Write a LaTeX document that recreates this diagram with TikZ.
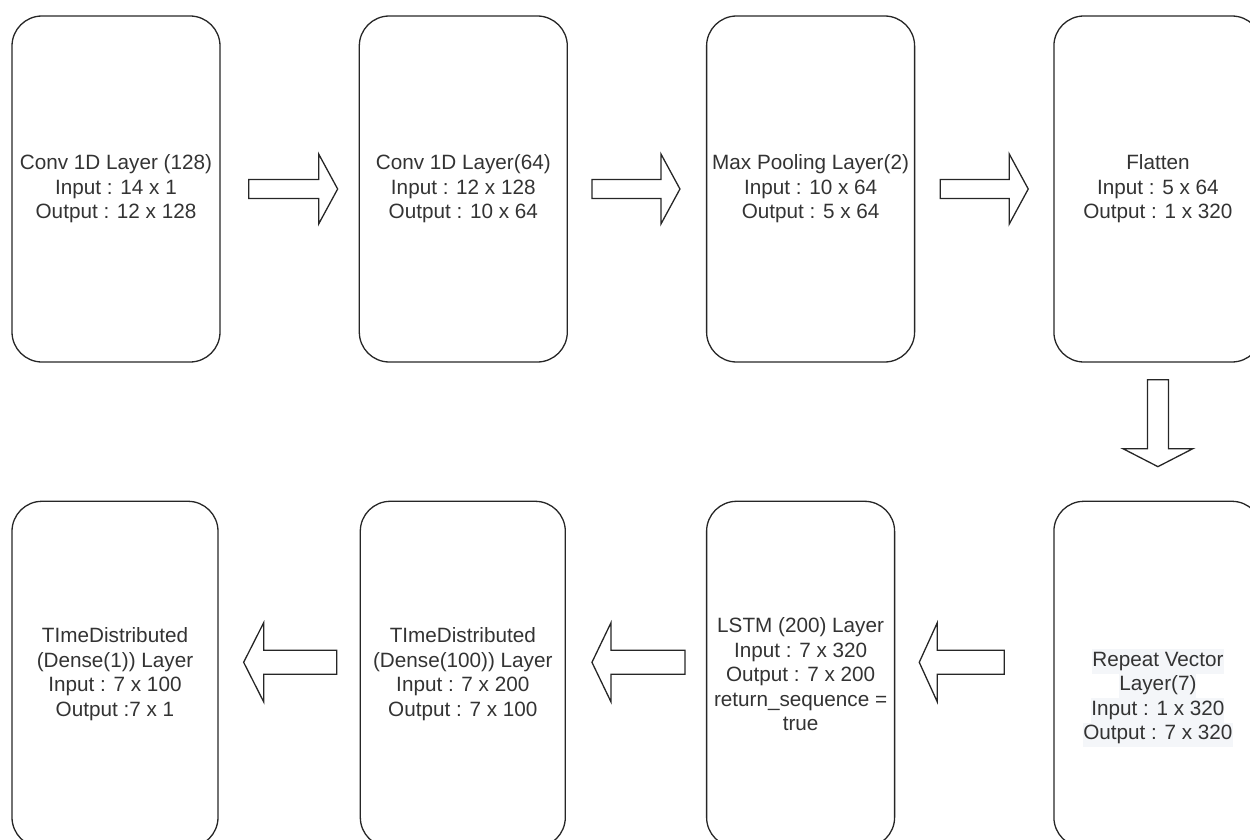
\documentclass[tikz,border=0pt]{standalone}
\usepackage{fontspec}
\setmainfont{Liberation Sans}
\usepackage{tikz}
\usetikzlibrary{calc,positioning}
\definecolor{hlgray}{HTML}{F4F6F9}
\newcommand{\hlline}[1]{{\setlength{\fboxsep}{0pt}\colorbox{hlgray}{\strut #1}}}
\tikzset{
    layertext/.style={align=center, text=black!80, font=\fontsize{20.7pt}{24.5pt}\selectfont},
    layer/.style={layertext, draw=black!85, line width=1.3pt, rounded corners=30pt,
        minimum width=208pt, minimum height=346pt},
    flow/.style n args={3}{draw=black!85, line width=1.3pt,
        to path={let \p1=($(\tikztotarget)!#3!(\tikztostart)$) in
            ($(\tikztostart)!#1!90:(\tikztotarget)$) -- ($(\p1)!#1!-90:(\tikztostart)$)
            -- ($(\p1)!#2!-90:(\tikztostart)$) -- (\tikztotarget)
            -- ($(\p1)!#2!90:(\tikztostart)$) -- ($(\p1)!#1!90:(\tikztostart)$)
            -- ($(\tikztostart)!#1!-90:(\tikztotarget)$) -- cycle}}
}

\begin{document}
\begin{tikzpicture}[
  x=1pt, y=-1pt,
  node distance=138pt and 138pt
]
\useasboundingbox (0,0) rectangle (1250,840);

% ---- top row ----
\node[layer] (conv1) at (116,189) {Conv 1D Layer (128)\\Input : 14 x 1\\Output : 12 x 128};
\node[layer, right=of conv1] (conv2) {Conv 1D Layer(64)\\Input : 12 x 128\\Output : 10 x 64};
\node[layer, right=of conv2] (pool) {Max Pooling Layer(2)\\Input : 10 x 64\\Output : 5 x 64};
\node[layer, right=of pool] (flat) {Flatten\\Input : 5 x 64\\Output : 1 x 320};

% ---- bottom row ----
\node[layer, below=of flat] (rep) {};
\node[layertext] (repT) at ($(rep.center)+(0,24)$)
  {\hlline{Repeat Vector}\\\hlline{Layer(7)}\\\hlline{Input : 1 x 320}\\\hlline{Output : 7 x 320}};
\node[layer, minimum width=188pt, left=158pt of rep] (lstm)
  {LSTM (200) Layer\\Input : 7 x 320\\Output : 7 x 200\\return\_sequence =\\true};
\node[layer, minimum width=205pt, left=140pt of lstm] (dense2)
  {TImeDistributed\\(Dense(100)) Layer\\Input : 7 x 200\\Output : 7 x 100};
\node[layer, minimum width=206pt, left=141pt of dense2] (dense1)
  {TImeDistributed\\(Dense(1)) Layer\\Input : 7 x 100\\Output :7 x 1};

% ---- arrow ends ----
\coordinate (a1s) at ($(conv1.east)+(28,0)$);
\coordinate (a1e) at ($(conv2.west)+(-21,0)$);
\coordinate (a2s) at ($(conv2.east)+(24,0)$);
\coordinate (a2e) at ($(pool.west)+(-26,0)$);
\coordinate (a3s) at ($(pool.east)+(25,0)$);
\coordinate (a3e) at ($(flat.west)+(-25,0)$);
\coordinate (a4s) at ($(flat.south)+(0,17)$);
\coordinate (a4e) at ($(rep.north)+(0,-34)$);
\coordinate (a5s) at ($(rep.west)+(-49,-12)$);
\coordinate (a5e) at ($(lstm.east)+(24,-12)$);
\coordinate (a6s) at ($(lstm.west)+(-21,-12)$);
\coordinate (a6e) at ($(dense2.east)+(26,-12)$);
\coordinate (a7s) at ($(dense2.west)+(-23,-12)$);
\coordinate (a7e) at ($(dense1.east)+(25,-12)$);

% ---- block arrows ----
\draw[flow={9.5pt}{35pt}{19pt}] (a1s) to (a1e);
\draw[flow={9.5pt}{35pt}{19pt}] (a2s) to (a2e);
\draw[flow={9.5pt}{35pt}{19pt}] (a3s) to (a3e);
\draw[flow={10.5pt}{35pt}{18pt}] (a4s) to (a4e);
\draw[flow={12pt}{39.5pt}{18pt}] (a5s) to (a5e);
\draw[flow={12pt}{39.5pt}{19pt}] (a6s) to (a6e);
\draw[flow={12pt}{39.5pt}{20pt}] (a7s) to (a7e);

\end{tikzpicture}
\end{document}
